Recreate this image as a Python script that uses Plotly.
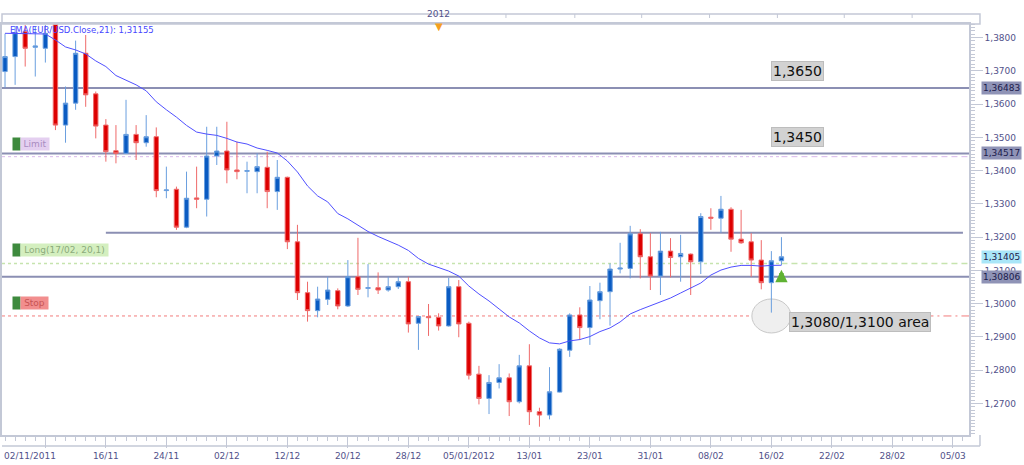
import plotly.graph_objects as go

# ---------------- data (EUR/USD daily, 02/11/2011 .. 17/02/2012) ----------------
idx = list(range(78))

open_ = [1.3698, 1.3743, 1.3818, 1.3771, 1.3768, 1.3840, 1.3537, 1.3603, 1.3753, 1.3631,
         1.3537, 1.3460, 1.3452, 1.3509, 1.3484, 1.3502, 1.3340, 1.3344, 1.3230, 1.3318,
         1.3314, 1.3444, 1.3459, 1.3402, 1.3398, 1.3397, 1.3410, 1.3337, 1.3380, 1.3186,
         1.3033, 1.2979, 1.3013, 1.3039, 1.2993, 1.3081, 1.3046, 1.3048, 1.3041, 1.3051,
         1.3066, 1.2941, 1.2961, 1.2959, 1.2933, 1.3051, 1.2941, 1.2788, 1.2715, 1.2763,
         1.2777, 1.2705, 1.2813, 1.2675, 1.2665, 1.2734, 1.2860, 1.2966, 1.2928, 1.3009,
         1.3036, 1.3104, 1.3106, 1.3210, 1.3141, 1.3083, 1.3158, 1.3141, 1.3149, 1.3126,
         1.3260, 1.3257, 1.3284, 1.3194, 1.3186, 1.3131, 1.3063, 1.3129]
high = [1.3812, 1.3835, 1.3838, 1.3833, 1.3838, 1.3845, 1.3653, 1.3791, 1.3808, 1.3638,
        1.3555, 1.3537, 1.3613, 1.3537, 1.3567, 1.3530, 1.3412, 1.3352, 1.3397, 1.3412,
        1.3532, 1.3532, 1.3547, 1.3487, 1.3427, 1.3452, 1.3457, 1.3432, 1.3382, 1.3237,
        1.3066, 1.3051, 1.3081, 1.3046, 1.3131, 1.3198, 1.3119, 1.3094, 1.3081, 1.3081,
        1.3081, 1.2963, 1.2999, 1.2971, 1.3078, 1.3071, 1.2946, 1.2813, 1.2785, 1.2818,
        1.2790, 1.2846, 1.2878, 1.2687, 1.2809, 1.2866, 1.2971, 1.2989, 1.3053, 1.3063,
        1.3121, 1.3183, 1.3234, 1.3224, 1.3212, 1.3216, 1.3197, 1.3207, 1.3151, 1.3272,
        1.3287, 1.3324, 1.3290, 1.3282, 1.3212, 1.3191, 1.3158, 1.3200]
low = [1.3650, 1.3658, 1.3713, 1.3683, 1.3725, 1.3522, 1.3484, 1.3583, 1.3592, 1.3497,
       1.3427, 1.3422, 1.3450, 1.3432, 1.3472, 1.3320, 1.3317, 1.3222, 1.3227, 1.3287,
       1.3262, 1.3417, 1.3362, 1.3374, 1.3332, 1.3332, 1.3287, 1.3282, 1.3164, 1.3011,
       1.2946, 1.2959, 1.2996, 1.2983, 1.2990, 1.3026, 1.3019, 1.3029, 1.3036, 1.3044,
       1.2913, 1.2861, 1.2903, 1.2919, 1.2931, 1.2899, 1.2772, 1.2697, 1.2668, 1.2745,
       1.2662, 1.2700, 1.2635, 1.2630, 1.2652, 1.2733, 1.2840, 1.2891, 1.2876, 1.2953,
       1.2934, 1.3091, 1.3076, 1.3076, 1.3041, 1.3026, 1.3079, 1.3066, 1.3026, 1.3089,
       1.3222, 1.3213, 1.3156, 1.3180, 1.3081, 1.3043, 1.2973, 1.3116]
close = [1.3743, 1.3815, 1.3768, 1.3775, 1.3813, 1.3537, 1.3603, 1.3753, 1.3628, 1.3534,
         1.3457, 1.3452, 1.3509, 1.3484, 1.3502, 1.3340, 1.3342, 1.3230, 1.3317, 1.3314,
         1.3444, 1.3459, 1.3402, 1.3397, 1.3400, 1.3412, 1.3337, 1.3380, 1.3186, 1.3033,
         1.2979, 1.3014, 1.3041, 1.2993, 1.3081, 1.3043, 1.3048, 1.3041, 1.3051, 1.3066,
         1.2939, 1.2961, 1.2958, 1.2933, 1.3051, 1.2939, 1.2785, 1.2715, 1.2763, 1.2777,
         1.2705, 1.2813, 1.2675, 1.2665, 1.2735, 1.2863, 1.2966, 1.2928, 1.3011, 1.3036,
         1.3104, 1.3107, 1.3210, 1.3141, 1.3083, 1.3158, 1.3139, 1.3151, 1.3126, 1.3262,
         1.3257, 1.3284, 1.3194, 1.3183, 1.3131, 1.3063, 1.3129, 1.3141]
ema21 = [1.3813, 1.3813, 1.3813, 1.3813, 1.3811, 1.3793, 1.3772, 1.3763, 1.3751, 1.3730,
         1.3713, 1.3686, 1.3671, 1.3658, 1.3640, 1.3607, 1.3583, 1.3561, 1.3536, 1.3516,
         1.3510, 1.3506, 1.3497, 1.3486, 1.3480, 1.3468, 1.3461, 1.3453, 1.3429, 1.3396,
         1.3354, 1.3324, 1.3306, 1.3271, 1.3255, 1.3237, 1.3217, 1.3202, 1.3190, 1.3176,
         1.3160, 1.3136, 1.3119, 1.3109, 1.3098, 1.3083, 1.3053, 1.3029, 1.3008, 1.2984,
         1.2960, 1.2942, 1.2918, 1.2897, 1.2882, 1.2879, 1.2888, 1.2892, 1.2901, 1.2916,
         1.2927, 1.2945, 1.2969, 1.2982, 1.2993, 1.3005, 1.3017, 1.3032, 1.3046, 1.3062,
         1.3086, 1.3101, 1.3110, 1.3115, 1.3115, 1.3113, 1.3115, 1.31155]

# horizontal levels
RES_HIGH = 1.36483
RES_LOW = 1.34517
MID_LINE = 1.3213
SUPPORT = 1.30806
LIMIT = 1.3442
ENTRY = 1.3121
STOP = 1.2963
LAST_PRICE = 1.31405
EMA_LAST = 1.31155

# x axis (trading-day index) ticks
tick_idx = [4, 10, 16, 22, 28, 34, 40, 46, 52, 58, 64, 70, 76, 82, 88, 94]
tick_txt = ["", "16/11", "24/11", "02/12", "12/12", "20/12", "28/12", "05/01/2012",
            "13/01", "23/01", "31/01", "08/02", "16/02", "22/02", "28/02", "05/03"]
YEAR_IDX = 43
CALLOUT_IDX = 78.6
AREA_IDX = 84.8

X_MIN, X_MAX = -0.3, 95.6
Y_MIN, Y_MAX = 1.2605, 1.3841

AX_COL = "#c3c8d6"
TXT_COL = "#52528a"
FONT = "DejaVu Sans"

fig = go.Figure()

fig.add_trace(go.Candlestick(
    x=idx, open=open_, high=high, low=low, close=close,
    increasing=dict(line=dict(color="#6a9fdf", width=1), fillcolor="#0a5bc2"),
    decreasing=dict(line=dict(color="#ef6a6a", width=1), fillcolor="#dd0000"),
    whiskerwidth=0, showlegend=False, hoverinfo="skip"))

fig.add_trace(go.Scatter(x=idx, y=ema21, mode="lines",
                         line=dict(color="#5050ff", width=1),
                         showlegend=False, hoverinfo="skip"))

shapes = []
def hline(y, x0, x1, color, width, dash="solid", xref="x"):
    shapes.append(dict(type="line", xref=xref, yref="y", x0=x0, x1=x1, y0=y, y1=y,
                       line=dict(color=color, width=width, dash=dash), layer="below"))

LVL = "#8b8fb3"
hline(RES_HIGH, X_MIN, X_MAX, LVL, 2)
hline(RES_LOW, X_MIN, X_MAX, LVL, 2)
hline(SUPPORT, X_MIN, X_MAX, LVL, 2)
hline(MID_LINE, 10, 95.0, LVL, 2)
last = idx[-1]
hline(LIMIT, X_MIN, last, "#d9b8ec", 1, "dot")
hline(LIMIT, last, X_MAX, "#d9b8ec", 1, "6px,4px")
hline(ENTRY, X_MIN, last, "#c6e4ae", 1.5, "dot")
hline(ENTRY, last, X_MAX, "#c6e4ae", 1.5, "6px,4px")
hline(STOP, X_MIN, last, "#f27c7c", 1, "dot")
hline(STOP, last, X_MAX, "#f27c7c", 1, "8px,4px,2px,4px")

# circle around the 16/02 low
shapes.append(dict(type="circle", xref="x", yref="y", xsizemode="pixel", ysizemode="pixel",
                   xanchor=76, yanchor=STOP, x0=-19.5, x1=19.5, y0=-17, y1=17,
                   fillcolor="#efefef", line=dict(color="#c8c8c8", width=1), layer="below"))

# top navigator band and bottom band frames
px_w, px_h = 969.0, 411.0
def px(xp):
    return xp / px_w
def py(yp):
    return (435.0 - yp) / px_h
shapes.append(dict(type="rect", xref="paper", yref="paper", x0=0, x1=px(980), y0=py(24), y1=py(14),
                   line=dict(color=AX_COL, width=1.5), fillcolor="rgba(0,0,0,0)"))
shapes.append(dict(type="line", xref="paper", yref="paper", x0=0, x1=px(980), y0=py(446), y1=py(446),
                   line=dict(color=AX_COL, width=1.5)))
shapes.append(dict(type="line", xref="paper", yref="paper", x0=px(980), x1=px(980), y0=py(446), y1=py(435),
                   line=dict(color=AX_COL, width=1.5)))
for xp in [505, 574, 641, 709, 777, 844, 912]:
    shapes.append(dict(type="line", xref="paper", yref="paper", x0=px(xp), x1=px(xp), y0=py(14), y1=py(18),
                       line=dict(color=AX_COL, width=1)))

ann = []
# EMA legend
ann.append(dict(xref="paper", yref="paper", x=px(6), y=py(30), xanchor="left", yanchor="middle",
                text="EMA(EUR/USD.Close,21): " + f"{EMA_LAST:.5f}".replace(".", ","),
                showarrow=False, font=dict(family=FONT, size=8.5, color="#4646ff")))
# first date label
ann.append(dict(xref="paper", yref="paper", x=0, y=py(456), xanchor="left", yanchor="middle",
                text="02/11/2011", showarrow=False, font=dict(family=FONT, size=9, color=TXT_COL)))
# year marker
ann.append(dict(xref="x", yref="paper", x=YEAR_IDX, y=py(7), text="2012", showarrow=False,
                font=dict(family=FONT, size=9, color=TXT_COL)))
ann.append(dict(xref="x", yref="paper", x=YEAR_IDX, y=py(19), text="▼", showarrow=False,
                font=dict(family=FONT, size=10, color="#f5a020")))

# order labels on left
def order_label(level, text, bg, fg, width, shift):
    ann.append(dict(xref="paper", yref="y", x=px(10), y=level, yshift=shift, xanchor="left",
                    yanchor="middle", text=" ", width=7, height=12, bgcolor="#3e8a3e",
                    showarrow=False, borderpad=0, font=dict(size=8)))
    ann.append(dict(xref="paper", yref="y", x=px(18), y=level, yshift=shift, xanchor="left",
                    yanchor="middle", text=text, bgcolor=bg, showarrow=False, width=width,
                    height=12, borderpad=0, font=dict(family=FONT, size=9, color=fg)))

order_label(LIMIT, "Limit", "#e4cff0", "#a98cc0", 28, 13)
order_label(ENTRY, "Long(17/02, 20,1)", "#d4efbf", "#8cab7c", 87, 13)
order_label(STOP, "Stop", "#f28e8e", "#c75454", 27, 13)

# callouts
def callout(x, y, text):
    ann.append(dict(xref="x", yref="y", x=x, y=y, text=text, showarrow=False,
                    bgcolor="#d2d2d2", bordercolor="#bdbdbd", borderwidth=1, borderpad=1,
                    font=dict(family=FONT, size=14, color="#111111")))

callout(CALLOUT_IDX, 1.3700, "1,3650")
callout(CALLOUT_IDX, 1.3502, "1,3450")
callout(AREA_IDX, 1.2946, "1,3080/1,3100 area")

# right price boxes
def price_box(y, bg):
    ann.append(dict(xref="paper", yref="y", x=px(981), y=y, xanchor="left", yanchor="middle",
                    text=f"{y:.5f}".replace(".", ","), showarrow=False, bgcolor=bg,
                    borderpad=1, font=dict(family=FONT, size=9, color="#1c1c4c")))

price_box(RES_HIGH, "#8f93b6")
price_box(RES_LOW, "#8f93b6")
price_box(LAST_PRICE, "#a9e6f8")
price_box(SUPPORT, "#8f93b6")

# green up arrow on support
ann.append(dict(xref="x", yref="y", x=last, y=SUPPORT, yshift=7, ax=0, ay=13,
                showarrow=True, arrowhead=2, arrowsize=0.55, arrowwidth=4.5,
                arrowcolor="#5fb233", text=""))

fig.update_layout(
    width=1024, height=465,
    margin=dict(l=0, r=55, t=24, b=30),
    paper_bgcolor="white", plot_bgcolor="white",
    separators=", ",
    font=dict(family=FONT, size=9, color=TXT_COL),
    showlegend=False,
    boxgap=0.38,
    shapes=shapes, annotations=ann,
    xaxis=dict(range=[X_MIN, X_MAX], rangeslider=dict(visible=False),
               tickmode="array", tickvals=tick_idx, ticktext=tick_txt,
               ticks="outside", ticklen=11, tickcolor=AX_COL, tickwidth=1,
               minor=dict(tickmode="linear", tick0=0, dtick=1, ticks="outside",
                          ticklen=4, tickcolor=AX_COL),
               showgrid=False, zeroline=False, showline=True, linecolor=AX_COL,
               linewidth=1.5, mirror=True,
               tickfont=dict(family=FONT, size=9, color=TXT_COL)),
    yaxis=dict(range=[Y_MIN, Y_MAX], side="right", dtick=0.01, tick0=1.27,
               tickformat=".4f", ticks="outside", ticklen=12, tickcolor=AX_COL,
               minor=dict(tickmode="linear", tick0=1.27, dtick=0.001, ticks="outside",
                          ticklen=4, tickcolor=AX_COL),
               showgrid=False, zeroline=False, showline=True, linecolor=AX_COL,
               linewidth=1.5, mirror=True,
               tickfont=dict(family=FONT, size=9, color=TXT_COL)),
)

fig.write_html("out.html")
